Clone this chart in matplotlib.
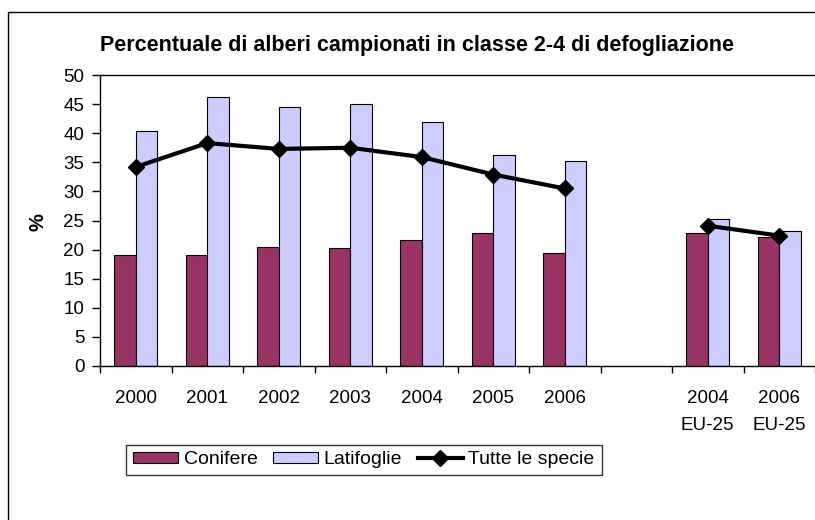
import numpy as np
import matplotlib
matplotlib.use("Agg")
import matplotlib.pyplot as plt
from matplotlib.patches import Rectangle

categories = ["2000", "2001", "2002", "2003", "2004", "2005", "2006", "",
              "2004\nEU-25", "2006\nEU-25"]
conifere = [19.1, 19.1, 20.5, 20.2, 21.6, 22.9, 19.4, np.nan, 22.9, 22.1]
latifoglie = [40.4, 46.2, 44.5, 45.0, 42.0, 36.3, 35.2, np.nan, 25.3, 23.2]
tutte = [34.2, 38.3, 37.3, 37.5, 35.9, 32.9, 30.5, np.nan, 24.1, 22.4]

title = "Percentuale di alberi campionati in classe 2-4 di defogliazione"
ylabel = "%"
yticks = [0, 5, 10, 15, 20, 25, 30, 35, 40, 45, 50]

plt.rcParams['font.family'] = ['Liberation Sans', 'DejaVu Sans']

W, H = 815, 520
fig = plt.figure(figsize=(W / 100, H / 100), dpi=100)

# outer chart border
fig.add_artist(Rectangle((8 / W, -0.05), 1.2, (H - 12) / H + 0.05,
                         transform=fig.transFigure, fill=False,
                         edgecolor='black', linewidth=1.0))

ax = fig.add_axes([100 / W, 1 - 366 / H, (W - 100) / W, (366 - 75) / H])

n = len(categories)
x = np.arange(n) + 0.5
bw = 0.3
b1 = ax.bar(x - bw / 2, conifere, width=bw, color='#993366', edgecolor='black',
            linewidth=0.8, label='Conifere')
b2 = ax.bar(x + bw / 2, latifoglie, width=bw, color='#CCCCFF', edgecolor='black',
            linewidth=0.8, label='Latifoglie')
l1, = ax.plot(x, tutte, color='black', linewidth=3, marker='D', markersize=8,
              label='Tutte le specie')

ax.set_xlim(0, n)
ax.set_ylim(0, 50)
ax.set_yticks(yticks)
ax.tick_params(axis='y', direction='out', length=5.8, width=1,
               labelsize=13.5, pad=5.5)
ax.set_xticks(np.arange(n + 1), minor=True)
ax.set_xticks(x)
ax.set_xticklabels(categories, fontsize=13.5, linespacing=1.75)
ax.tick_params(axis='x', which='major', length=0, pad=17.5)
ax.tick_params(axis='x', which='minor', direction='out', length=5, width=1)
ax.spines['right'].set_visible(False)
for s in ['left', 'bottom', 'top']:
    ax.spines[s].set_linewidth(1.0)

fig.text(38 / W, 1 - 222 / H, ylabel, rotation=90, fontsize=14.5,
         fontweight='bold', ha='center', va='center')
fig.text(417 / W, 1 - 45 / H, title, fontsize=15.5, fontweight='bold',
         ha='center', va='center')

leg = fig.legend([b1, b2, l1], ['Conifere', 'Latifoglie', 'Tutte le specie'],
                 loc='center', bbox_to_anchor=(364 / W, 1 - 460 / H),
                 ncol=3, frameon=True, fancybox=False, fontsize=14,
                 handlelength=2.3, handleheight=0.55, columnspacing=0.8,
                 handletextpad=0.3, borderpad=0.35, borderaxespad=0)
leg.get_frame().set_edgecolor('black')
leg.get_frame().set_linewidth(1.0)

fig.savefig("out.png", dpi=100)
